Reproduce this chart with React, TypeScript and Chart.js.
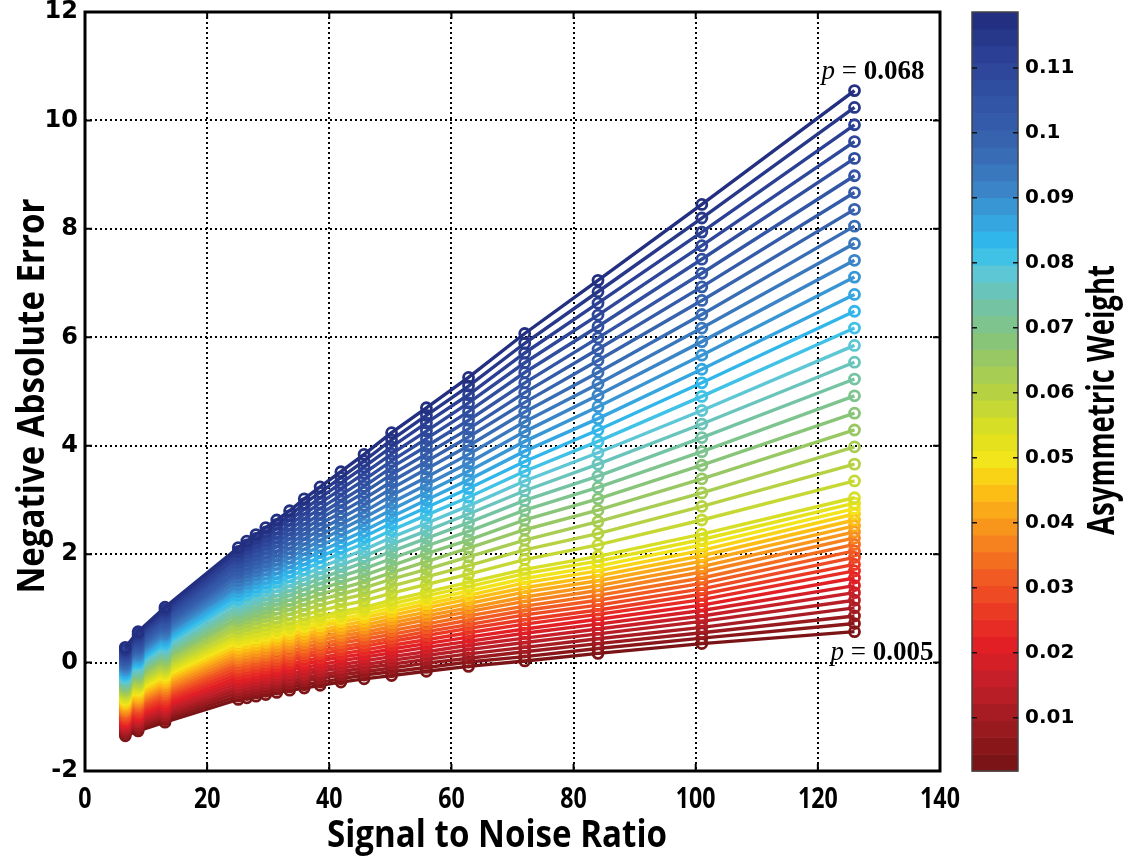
import React, { useEffect, useRef } from "react";
import { Chart, registerables } from "chart.js";

Chart.register(...registerables);

// ---------------- DATA ----------------
// Signal to Noise Ratio of each measured column
const SNR = [6.6, 8.7, 13.1, 25.1, 26.5, 28.0, 29.6, 31.4, 33.5, 35.9, 38.5, 41.9, 45.7, 50.2, 55.9, 62.8, 72.0, 84.0, 101.0, 126.0];

// Negative Absolute Error at each SNR column; each array lists the 45 curves
// from the highest asymmetric weight (top, dark blue) to the lowest (bottom, dark red)
const c01 = [0.28, 0.24, 0.21, 0.17, 0.13, 0.10, 0.06, 0.02, -0.02, -0.05, -0.09, -0.13, -0.16, -0.20, -0.24, -0.28, -0.31, -0.35, -0.39, -0.42, -0.46, -0.50, -0.53, -0.57, -0.61, -0.65, -0.68, -0.72, -0.76, -0.79, -0.83, -0.87, -0.90, -0.94, -0.98, -1.02, -1.05, -1.09, -1.13, -1.16, -1.20, -1.24, -1.27, -1.31, -1.35];
const c02 = [0.57, 0.53, 0.49, 0.45, 0.40, 0.36, 0.32, 0.28, 0.24, 0.20, 0.15, 0.11, 0.07, 0.03, -0.01, -0.05, -0.10, -0.14, -0.18, -0.22, -0.26, -0.30, -0.35, -0.39, -0.43, -0.47, -0.51, -0.55, -0.60, -0.64, -0.68, -0.72, -0.76, -0.80, -0.84, -0.89, -0.93, -0.97, -1.01, -1.05, -1.09, -1.14, -1.18, -1.22, -1.26];
const c03 = [1.02, 0.97, 0.92, 0.87, 0.83, 0.78, 0.73, 0.68, 0.63, 0.58, 0.53, 0.49, 0.44, 0.39, 0.34, 0.29, 0.24, 0.19, 0.15, 0.10, 0.05, 0.00, -0.05, -0.10, -0.15, -0.19, -0.24, -0.29, -0.34, -0.38, -0.43, -0.48, -0.53, -0.58, -0.62, -0.67, -0.72, -0.77, -0.81, -0.86, -0.91, -0.96, -1.00, -1.05, -1.10];
const c04 = [2.12, 2.05, 1.98, 1.92, 1.85, 1.78, 1.71, 1.65, 1.58, 1.51, 1.44, 1.38, 1.31, 1.24, 1.17, 1.11, 1.04, 0.97, 0.90, 0.83, 0.77, 0.70, 0.63, 0.56, 0.50, 0.44, 0.38, 0.32, 0.26, 0.20, 0.14, 0.08, 0.03, -0.03, -0.09, -0.15, -0.21, -0.27, -0.33, -0.39, -0.45, -0.50, -0.56, -0.62, -0.68];
const c05 = [2.24, 2.17, 2.10, 2.03, 1.96, 1.89, 1.81, 1.74, 1.67, 1.60, 1.53, 1.46, 1.39, 1.32, 1.25, 1.17, 1.10, 1.03, 0.96, 0.89, 0.82, 0.75, 0.68, 0.61, 0.54, 0.48, 0.42, 0.36, 0.30, 0.24, 0.18, 0.12, 0.06, 0.00, -0.06, -0.12, -0.18, -0.24, -0.29, -0.35, -0.41, -0.47, -0.53, -0.59, -0.65];
const c06 = [2.36, 2.29, 2.21, 2.14, 2.06, 1.99, 1.91, 1.84, 1.76, 1.69, 1.62, 1.54, 1.47, 1.39, 1.32, 1.24, 1.17, 1.09, 1.02, 0.94, 0.87, 0.80, 0.72, 0.65, 0.57, 0.51, 0.45, 0.39, 0.33, 0.27, 0.21, 0.15, 0.10, 0.04, -0.02, -0.08, -0.14, -0.20, -0.26, -0.32, -0.38, -0.44, -0.50, -0.56, -0.62];
const c07 = [2.49, 2.41, 2.33, 2.25, 2.18, 2.10, 2.02, 1.94, 1.86, 1.79, 1.71, 1.63, 1.55, 1.47, 1.39, 1.32, 1.24, 1.16, 1.08, 1.00, 0.92, 0.85, 0.77, 0.69, 0.61, 0.55, 0.49, 0.43, 0.37, 0.31, 0.25, 0.19, 0.13, 0.07, 0.01, -0.05, -0.11, -0.17, -0.23, -0.29, -0.35, -0.41, -0.47, -0.53, -0.59];
const c08 = [2.63, 2.55, 2.47, 2.38, 2.30, 2.22, 2.14, 2.05, 1.97, 1.89, 1.81, 1.73, 1.64, 1.56, 1.48, 1.40, 1.32, 1.23, 1.15, 1.07, 0.99, 0.90, 0.82, 0.74, 0.66, 0.60, 0.54, 0.48, 0.42, 0.36, 0.30, 0.24, 0.17, 0.11, 0.05, -0.01, -0.07, -0.13, -0.19, -0.25, -0.31, -0.37, -0.43, -0.49, -0.55];
const c09 = [2.80, 2.71, 2.63, 2.54, 2.45, 2.37, 2.28, 2.19, 2.10, 2.02, 1.93, 1.84, 1.76, 1.67, 1.58, 1.50, 1.41, 1.32, 1.24, 1.15, 1.06, 0.98, 0.89, 0.80, 0.71, 0.65, 0.59, 0.53, 0.47, 0.41, 0.35, 0.29, 0.22, 0.16, 0.10, 0.04, -0.02, -0.08, -0.14, -0.20, -0.27, -0.33, -0.39, -0.45, -0.51];
const c10 = [3.02, 2.93, 2.83, 2.74, 2.65, 2.55, 2.46, 2.37, 2.28, 2.18, 2.09, 2.00, 1.90, 1.81, 1.72, 1.62, 1.53, 1.44, 1.35, 1.25, 1.16, 1.07, 0.97, 0.88, 0.79, 0.72, 0.66, 0.60, 0.53, 0.47, 0.41, 0.35, 0.28, 0.22, 0.16, 0.10, 0.03, -0.03, -0.09, -0.16, -0.22, -0.28, -0.34, -0.41, -0.47];
const c11 = [3.24, 3.14, 3.04, 2.94, 2.84, 2.74, 2.65, 2.55, 2.45, 2.35, 2.25, 2.15, 2.05, 1.95, 1.85, 1.75, 1.65, 1.55, 1.46, 1.36, 1.26, 1.16, 1.06, 0.96, 0.86, 0.80, 0.73, 0.67, 0.60, 0.54, 0.48, 0.41, 0.35, 0.28, 0.22, 0.16, 0.09, 0.03, -0.04, -0.10, -0.16, -0.23, -0.29, -0.36, -0.42];
const c12 = [3.52, 3.41, 3.31, 3.20, 3.09, 2.98, 2.88, 2.77, 2.66, 2.55, 2.45, 2.34, 2.23, 2.12, 2.02, 1.91, 1.80, 1.69, 1.59, 1.48, 1.37, 1.26, 1.16, 1.05, 0.94, 0.88, 0.81, 0.75, 0.68, 0.62, 0.55, 0.49, 0.42, 0.36, 0.29, 0.23, 0.16, 0.10, 0.03, -0.04, -0.10, -0.17, -0.23, -0.30, -0.36];
const c13 = [3.84, 3.72, 3.61, 3.49, 3.37, 3.25, 3.14, 3.02, 2.90, 2.78, 2.67, 2.55, 2.43, 2.32, 2.20, 2.08, 1.96, 1.85, 1.73, 1.61, 1.49, 1.38, 1.26, 1.14, 1.02, 0.96, 0.89, 0.83, 0.76, 0.69, 0.63, 0.56, 0.50, 0.43, 0.36, 0.30, 0.23, 0.16, 0.10, 0.03, -0.04, -0.10, -0.17, -0.23, -0.30];
const c14 = [4.24, 4.11, 3.98, 3.85, 3.72, 3.60, 3.47, 3.34, 3.21, 3.08, 2.95, 2.82, 2.69, 2.57, 2.44, 2.31, 2.18, 2.05, 1.92, 1.79, 1.66, 1.54, 1.41, 1.28, 1.15, 1.08, 1.01, 0.94, 0.87, 0.80, 0.73, 0.66, 0.59, 0.52, 0.45, 0.39, 0.32, 0.25, 0.18, 0.11, 0.04, -0.03, -0.10, -0.17, -0.24];
const c15 = [4.70, 4.56, 4.42, 4.27, 4.13, 3.99, 3.85, 3.71, 3.57, 3.42, 3.28, 3.14, 3.00, 2.86, 2.72, 2.57, 2.43, 2.29, 2.15, 2.01, 1.86, 1.72, 1.58, 1.44, 1.30, 1.23, 1.15, 1.08, 1.01, 0.93, 0.86, 0.79, 0.71, 0.64, 0.57, 0.50, 0.42, 0.35, 0.28, 0.20, 0.13, 0.06, -0.01, -0.09, -0.16];
const c16 = [5.26, 5.10, 4.94, 4.79, 4.63, 4.47, 4.31, 4.16, 4.00, 3.84, 3.68, 3.53, 3.37, 3.21, 3.05, 2.89, 2.74, 2.58, 2.42, 2.26, 2.11, 1.95, 1.79, 1.63, 1.48, 1.40, 1.32, 1.24, 1.17, 1.09, 1.01, 0.94, 0.86, 0.78, 0.70, 0.63, 0.55, 0.47, 0.39, 0.32, 0.24, 0.16, 0.08, 0.01, -0.07];
const c17 = [6.07, 5.89, 5.71, 5.53, 5.35, 5.16, 4.98, 4.80, 4.62, 4.44, 4.26, 4.08, 3.90, 3.71, 3.53, 3.35, 3.17, 2.99, 2.81, 2.63, 2.45, 2.26, 2.08, 1.90, 1.72, 1.64, 1.55, 1.47, 1.38, 1.30, 1.21, 1.13, 1.04, 0.96, 0.88, 0.79, 0.71, 0.62, 0.54, 0.45, 0.37, 0.28, 0.20, 0.11, 0.03];
const c18 = [7.05, 6.84, 6.63, 6.41, 6.20, 5.99, 5.78, 5.57, 5.35, 5.14, 4.93, 4.72, 4.50, 4.29, 4.08, 3.87, 3.66, 3.44, 3.23, 3.02, 2.81, 2.60, 2.38, 2.17, 1.96, 1.87, 1.78, 1.69, 1.60, 1.51, 1.42, 1.33, 1.24, 1.15, 1.06, 0.97, 0.89, 0.80, 0.71, 0.62, 0.53, 0.44, 0.35, 0.26, 0.17];
const c19 = [8.45, 8.20, 7.94, 7.69, 7.44, 7.18, 6.93, 6.68, 6.42, 6.17, 5.92, 5.67, 5.41, 5.16, 4.91, 4.65, 4.40, 4.15, 3.89, 3.64, 3.39, 3.13, 2.88, 2.63, 2.37, 2.27, 2.17, 2.07, 1.97, 1.87, 1.77, 1.67, 1.56, 1.46, 1.36, 1.26, 1.16, 1.06, 0.96, 0.86, 0.76, 0.65, 0.55, 0.45, 0.35];
const c20 = [10.55, 10.24, 9.92, 9.61, 9.30, 8.98, 8.67, 8.36, 8.05, 7.73, 7.42, 7.11, 6.79, 6.48, 6.17, 5.85, 5.54, 5.23, 4.92, 4.60, 4.29, 3.98, 3.66, 3.35, 3.04, 2.94, 2.84, 2.74, 2.63, 2.52, 2.41, 2.30, 2.18, 2.06, 1.94, 1.81, 1.69, 1.56, 1.42, 1.29, 1.15, 1.01, 0.86, 0.72, 0.57];

const COLUMNS = [c01, c02, c03, c04, c05, c06, c07, c08, c09, c10, c11, c12, c13, c14, c15, c16, c17, c18, c19, c20];

const X_TICKS = [0, 20, 40, 60, 80, 100, 120, 140];
const Y_TICKS = [-2, 0, 2, 4, 6, 8, 10, 12];
const CB_TICKS = [0.01, 0.02, 0.03, 0.04, 0.05, 0.06, 0.07, 0.08, 0.09, 0.1, 0.11];
const CB_MIN = 0.0018;
const CB_MAX = 0.1186;
const P_TOP = "0.068";
const P_BOTTOM = "0.005";
const X_TITLE = "Signal to Noise Ratio";
const Y_TITLE = "Negative Absolute Error";
const CB_TITLE = "Asymmetric Weight";

// ---------------- STYLE ----------------
const CMAP: [number, string][] = [
  [0.0, "#7a1416"], [0.055, "#9e1b20"], [0.11, "#c41f29"], [0.16, "#e41f26"],
  [0.21, "#ec3d24"], [0.25, "#f15a22"], [0.295, "#f6821f"], [0.335, "#faa41a"],
  [0.37, "#fcc313"], [0.405, "#f6e51a"], [0.445, "#dde11f"], [0.49, "#bcd43b"],
  [0.535, "#9fca5a"], [0.575, "#85c47e"], [0.62, "#71c4aa"], [0.66, "#5ec7d6"],
  [0.695, "#2ebdf0"], [0.74, "#389dd9"], [0.78, "#3c7fc3"], [0.84, "#3662ae"],
  [0.9, "#3151a2"], [0.95, "#2c4296"], [1.0, "#232f80"],
];

function hexRgb(h: string) {
  const n = parseInt(h.slice(1), 16);
  return [(n >> 16) & 255, (n >> 8) & 255, n & 255];
}
function cmap(t: number) {
  const tt = Math.max(0, Math.min(1, t));
  for (let k = 0; k < CMAP.length - 1; k++) {
    const [t0, h0] = CMAP[k];
    const [t1, h1] = CMAP[k + 1];
    if (tt >= t0 && tt <= t1) {
      const f = t1 === t0 ? 0 : (tt - t0) / (t1 - t0);
      const a = hexRgb(h0), b = hexRgb(h1);
      const c = a.map((v, i) => Math.round(v + (b[i] - v) * f));
      return `rgb(${c[0]},${c[1]},${c[2]})`;
    }
  }
  return CMAP[CMAP.length - 1][1];
}

const N_LINES = c01.length;
const SANS_COND = '"Open Sans", "Liberation Sans", sans-serif';
const SERIF = '"Liberation Serif", "Times New Roman", serif';
const TICK_FONT = '"DejaVu Sans", Verdana, sans-serif';

function drawScaledText(ctx: CanvasRenderingContext2D, text: string, x: number, y: number, font: string, opts: { width?: number; scaleX?: number; rotate?: boolean; align?: CanvasTextAlign; baseline?: CanvasTextBaseline }) {
  ctx.save();
  ctx.font = font;
  const w = ctx.measureText(text).width;
  const sx = opts.width ? opts.width / w : (opts.scaleX ?? 1);
  ctx.translate(x, y);
  if (opts.rotate) ctx.rotate(-Math.PI / 2);
  ctx.scale(sx, 1);
  ctx.textAlign = opts.align ?? "center";
  ctx.textBaseline = opts.baseline ?? "alphabetic";
  ctx.fillStyle = "#000";
  ctx.fillText(text, 0, 0);
  ctx.restore();
}

const decor = {
  id: "decor",
  beforeDraw(chart: any) {
    const ctx = chart.ctx;
    ctx.save();
    ctx.fillStyle = "#fff";
    ctx.fillRect(0, 0, chart.width, chart.height);
    ctx.restore();
  },
  afterDraw(chart: any) {
    const { ctx, chartArea: a, scales } = chart;
    const xs = scales.x, ys = scales.y, cb = scales.cb;
    ctx.save();

    // plot frame
    ctx.strokeStyle = "#000";
    ctx.lineWidth = 3;
    ctx.strokeRect(a.left, a.top, a.right - a.left, a.bottom - a.top);

    // inner tick marks
    ctx.lineWidth = 2;
    ctx.beginPath();
    X_TICKS.forEach((v) => {
      const px = xs.getPixelForValue(v);
      ctx.moveTo(px, a.bottom); ctx.lineTo(px, a.bottom - 7);
      ctx.moveTo(px, a.top); ctx.lineTo(px, a.top + 7);
    });
    Y_TICKS.forEach((v) => {
      const py = ys.getPixelForValue(v);
      ctx.moveTo(a.left, py); ctx.lineTo(a.left + 7, py);
      ctx.moveTo(a.right, py); ctx.lineTo(a.right - 7, py);
    });
    ctx.stroke();

    // x tick labels (condensed bold)
    X_TICKS.forEach((v) => {
      const px = xs.getPixelForValue(v);
      drawScaledText(ctx, String(v), px, a.bottom + 29, `700 29px ${SANS_COND}`, { scaleX: 0.8, baseline: "middle" });
    });

    // axis titles
    drawScaledText(ctx, X_TITLE, 497, 847, `700 38px ${SANS_COND}`, { width: 340 });
    drawScaledText(ctx, Y_TITLE, 44, 396, `700 38px ${SANS_COND}`, { width: 395, rotate: true });

    // colour bar
    const barL = cb.left + 32;
    const barR = barL + 46;
    const nb = N_LINES;
    for (let j = 0; j < nb; j++) {
      const w0 = CB_MIN + (j * (CB_MAX - CB_MIN)) / nb;
      const w1 = CB_MIN + ((j + 1) * (CB_MAX - CB_MIN)) / nb;
      const y0 = cb.getPixelForValue(w0);
      const y1 = cb.getPixelForValue(w1);
      ctx.fillStyle = cmap(j / (nb - 1));
      ctx.fillRect(barL, y1, barR - barL, y0 - y1 + 0.6);
    }
    ctx.strokeStyle = "#444";
    ctx.lineWidth = 1.5;
    ctx.strokeRect(barL, cb.getPixelForValue(CB_MAX), barR - barL, cb.getPixelForValue(CB_MIN) - cb.getPixelForValue(CB_MAX));
    ctx.strokeStyle = "#111";
    ctx.lineWidth = 1.5;
    ctx.beginPath();
    CB_TICKS.forEach((v) => {
      const py = cb.getPixelForValue(v);
      ctx.moveTo(barL, py); ctx.lineTo(barL + 5, py);
      ctx.moveTo(barR, py); ctx.lineTo(barR - 5, py);
    });
    ctx.stroke();
    drawScaledText(ctx, CB_TITLE, 1114, 400, `700 38px ${SANS_COND}`, { width: 270, rotate: true });

    // p annotations
    const last = SNR.length - 1;
    const drawP = (x: number, y: number, val: string) => {
      ctx.fillStyle = "#000";
      ctx.textAlign = "left";
      ctx.textBaseline = "alphabetic";
      ctx.font = `italic 27px ${SERIF}`;
      ctx.fillText("p", x, y);
      let cx = x + ctx.measureText("p").width;
      ctx.font = `27px ${SERIF}`;
      ctx.fillText(" = ", cx, y);
      cx += ctx.measureText(" = ").width;
      ctx.font = `bold 27px ${SERIF}`;
      ctx.fillText(val, cx, y);
    };
    const tx = xs.getPixelForValue(SNR[last]);
    drawP(tx - 33, ys.getPixelForValue(COLUMNS[last][0]) - 12, P_TOP);
    drawP(tx - 24, ys.getPixelForValue(COLUMNS[last][N_LINES - 1]) + 28, P_BOTTOM);

    ctx.restore();
  },
};

function buildDatasets() {
  const ds: any[] = [];
  for (let i = 0; i < N_LINES; i++) {
    const col = cmap(1 - i / (N_LINES - 1));
    ds.push({
      label: `w${i}`,
      data: SNR.map((x, j) => ({ x, y: COLUMNS[j][i] })),
      showLine: true,
      borderColor: col,
      backgroundColor: col,
      borderWidth: 3.4,
      pointRadius: 5,
      pointBorderWidth: 2.8,
      pointBorderColor: col,
      pointBackgroundColor: "rgba(0,0,0,0)",
      tension: 0,
    });
  }
  return ds;
}

const noPad = (s: any) => {
  s.paddingTop = 0;
  s.paddingBottom = 0;
  s.paddingLeft = 0;
  s.paddingRight = 0;
};

export default function App() {
  const ref = useRef<HTMLCanvasElement>(null);
  useEffect(() => {
    const canvas = ref.current;
    if (!canvas) return;
    const chart = new Chart(canvas, {
      type: "scatter",
      data: { datasets: buildDatasets() },
      options: {
        responsive: false,
        animation: false,
        devicePixelRatio: 1,
        layout: { padding: { left: 0, right: 0, top: 12, bottom: 0 } },
        plugins: { legend: { display: false }, tooltip: { enabled: false } },
        events: [],
        scales: {
          x: {
            type: "linear",
            min: 0,
            max: 140,
            afterBuildTicks: (s: any) => { s.ticks = X_TICKS.map((v) => ({ value: v })); },
            afterFit: (s: any) => { s.height = 86; noPad(s); },
            ticks: { display: false },
            grid: { color: "#000", lineWidth: 2, drawTicks: false },
            border: { display: false, dash: [2, 3] },
          },
          y: {
            type: "linear",
            min: -2,
            max: 12,
            afterBuildTicks: (s: any) => { s.ticks = Y_TICKS.map((v) => ({ value: v })); },
            afterFit: (s: any) => { s.width = 85; noPad(s); },
            ticks: {
              color: "#000",
              padding: 7,
              font: { family: TICK_FONT, weight: "bold", size: 24 },
              callback: (v: any) => String(v),
            },
            grid: { color: "#000", lineWidth: 2, drawTicks: false },
            border: { display: false, dash: [2, 3] },
          },
          cb: {
            type: "linear",
            position: "right",
            min: CB_MIN,
            max: CB_MAX,
            afterBuildTicks: (s: any) => { s.ticks = CB_TICKS.map((v) => ({ value: v })); },
            afterFit: (s: any) => { s.width = 190; noPad(s); },
            ticks: {
              color: "#000",
              padding: 85,
              font: { family: TICK_FONT, weight: "bold", size: 20 },
              callback: (v: any) => String(v),
            },
            grid: { display: false, drawOnChartArea: false, drawTicks: false },
            border: { display: false },
          },
        },
      } as any,
      plugins: [decor],
    });
    return () => chart.destroy();
  }, []);
  return (
    <div style={{ position: "fixed", left: 0, top: 0, width: 1130, height: 857, background: "#fff" }}>
      <canvas ref={ref} width={1130} height={857} style={{ display: "block", width: 1130, height: 857 }} />
    </div>
  );
}
